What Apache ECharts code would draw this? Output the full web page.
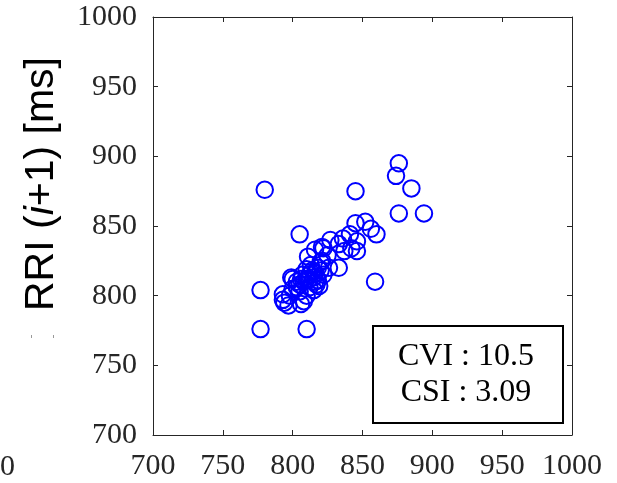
<!DOCTYPE html>
<html>
<head>
<meta charset="utf-8">
<script src="https://cdn.jsdelivr.net/npm/echarts@6/dist/echarts.min.js"></script>
<style>html,body{margin:0;padding:0;background:#fff}#c{width:617px;height:483px}</style>
</head>
<body>
<div id="c"></div>
<script>
// RRI(i) values [ms]
var rriI = [780,845,876,874,885,876,894,805,859,777,777,810,845,852,856,860,841,836,846,842,827,833,821,837,846,816,822,833,811,821,800,793,794,806,805,815,822,810,820,812,817,803,797,793,808,799,820,826,812,808,815,818,807,813,803,825,798,816,810,819,805,810,814,800,818,812,806,816];
// RRI(i+1) values [ms]
var rriI1 = [876,875,895,886,877,859,859,844,810,804,776,776,852,853,848,844,844,841,839,834,840,837,835,832,832,833,834,820,828,825,812,801,795,794,803,813,815,819,824,806,808,806,793,797,796,813,818,820,812,810,804,811,815,822,810,829,800,816,800,807,808,812,818,805,820,815,812,810];
var axisTicks = [700,750,800,850,900,950,1000];
var annotation = ['CVI : 10.5', 'CSI : 3.09'];

var pts = rriI.map(function(v,i){return [v, rriI1[i]];});
var serif = 'Liberation Serif';
var ink = '#262626';
function ax(pos, show){
  return {
    type:'value', min:700, max:1000, interval:50, position:pos,
    axisLine:{show:true,onZero:false,lineStyle:{color:ink,width:1}},
    axisTick:{show:true,inside:true,length:5,lineStyle:{color:ink,width:1}},
    splitLine:{show:false},
    axisLabel:{show:show,fontFamily:serif,fontSize:30,color:ink,margin:16,
      formatter:function(v){return axisTicks.indexOf(v)>=0?String(v):'';}}
  };
}
var chart = echarts.init(document.getElementById('c'));
chart.setOption({
  animation:false,
  backgroundColor:'#fff',
  grid:{left:153,right:45,top:17,bottom:48,containLabel:false},
  xAxis:[ax('bottom',true), ax('top',false)],
  yAxis:[ax('left',true), ax('right',false)],
  series:[{
    type:'scatter', data:pts, symbol:'circle', symbolSize:16.5,
    itemStyle:{color:'rgba(0,0,0,0)',borderColor:'#0000ff',borderWidth:2,opacity:1},
    emphasis:{disabled:true}
  }],
  graphic:[
    {type:'group', x:42, y:184, rotation:Math.PI/2, children:[
      {type:'text', x:0, y:0, style:{
        text:'{n|RRI (}{it|i}{n|+1) [ms]}',
        rich:{n:{fontFamily:'Liberation Sans',fontSize:41,fill:'#000'},
              it:{fontFamily:'Liberation Sans',fontSize:41,fontStyle:'italic',fill:'#000'}},
        align:'center', verticalAlign:'middle'}}
    ]},
    {type:'rect', shape:{x:373,y:326,width:190,height:97},
      style:{fill:'#fff',stroke:'#000',lineWidth:2}, z:10},
    {type:'text', x:466, y:357, z:11, style:{text:annotation[0],font:'32px "Liberation Serif"',fill:'#000',align:'center',verticalAlign:'middle'}},
    {type:'text', x:466, y:393, z:11, style:{text:annotation[1],font:'32px "Liberation Serif"',fill:'#000',align:'center',verticalAlign:'middle'}},
    {type:'text', x:15, y:467, style:{text:'0',font:'30px "Liberation Serif"',fill:ink,align:'right',verticalAlign:'middle'}},
    {type:'rect', shape:{x:31,y:335,width:1,height:3}, style:{fill:'#999'}},
    {type:'rect', shape:{x:53,y:335,width:1,height:3}, style:{fill:'#999'}}
  ]
});
</script>
</body>
</html>
